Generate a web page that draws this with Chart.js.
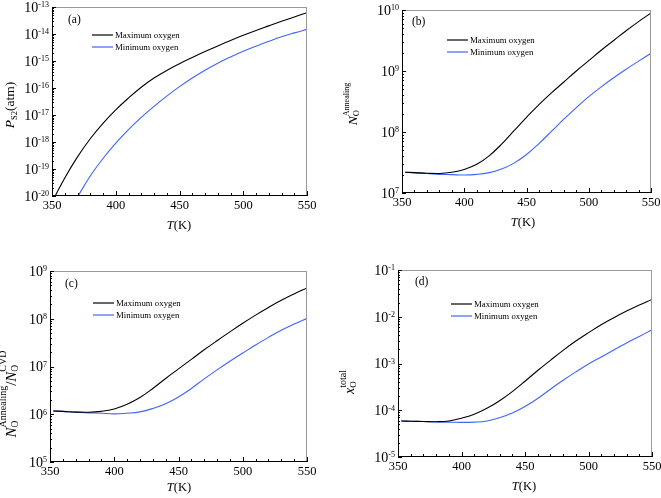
<!DOCTYPE html>
<html>
<head>
<meta charset="utf-8">
<script src="https://cdn.jsdelivr.net/npm/chart.js@4.4.1/dist/chart.umd.min.js"></script>
<style>
  html, body { margin: 0; padding: 0; background: #fff; }
  #wrap { position: relative; width: 661px; height: 498px; }
  canvas { position: absolute; }
</style>
</head>
<body>
<div id="wrap">
  <canvas id="pa"></canvas>
  <canvas id="pb"></canvas>
  <canvas id="pc"></canvas>
  <canvas id="pd"></canvas>
</div>
<script>
// -----------------------------
// Data
// -----------------------------
const seriesLabels = ["Maximum oxygen", "Minimum oxygen"];
const xTicks = [350, 400, 450, 500, 550];

const temps = [352.5, 360, 370, 380, 390, 400, 410, 420, 430, 440, 450,
               460, 470, 480, 490, 500, 510, 520, 530, 540, 550];
// the blue curve of (a) only enters the plot at ~370 K
const tempsMinA = [370.4, 380, 390, 400, 410, 420, 430, 440, 450,
                   460, 470, 480, 490, 500, 510, 520, 530, 540, 550];

// (a) P_S2 (atm)
const pS2Max = [1.0e-20, 4.68e-20, 2.82e-19, 1.32e-18, 4.90e-18, 1.55e-17, 4.27e-17,
                1.07e-16, 2.34e-16, 4.47e-16, 7.94e-16, 1.35e-15, 2.24e-15, 3.63e-15,
                5.75e-15, 8.91e-15, 1.35e-14, 2.0e-14, 2.95e-14, 4.27e-14, 6.17e-14];
const pS2Min = [1.0e-20, 5.50e-20, 2.45e-19, 9.12e-19, 2.88e-18, 8.13e-18, 2.09e-17,
                5.01e-17, 1.12e-16, 2.34e-16, 4.57e-16, 8.32e-16, 1.41e-15, 2.29e-15,
                3.55e-15, 5.37e-15, 7.94e-15, 1.10e-14, 1.48e-14];

// (b) N_O Annealing
const nAnnealMax = [2.19e7, 2.16e7, 2.11e7, 2.09e7, 2.19e7, 2.43e7, 2.95e7, 4.07e7,
                    6.31e7, 1.05e8, 1.74e8, 2.82e8, 4.37e8, 6.61e8, 1.0e9, 1.48e9,
                    2.19e9, 3.16e9, 4.57e9, 6.46e9, 8.91e9];
const nAnnealMin = [2.19e7, 2.14e7, 2.09e7, 2.02e7, 2.0e7, 1.97e7, 2.02e7, 2.16e7,
                    2.48e7, 3.09e7, 4.27e7, 6.46e7, 1.02e8, 1.62e8, 2.51e8, 3.80e8,
                    5.50e8, 7.76e8, 1.07e9, 1.45e9, 1.95e9];

// (c) N_O Annealing / N_O CVD
const ratioMax = [1.17e6, 1.15e6, 1.11e6, 1.10e6, 1.15e6, 1.29e6, 1.62e6, 2.24e6,
                  3.47e6, 5.62e6, 8.91e6, 1.41e7, 2.24e7, 3.47e7, 5.31e7, 8.04e7,
                  1.19e8, 1.72e8, 2.43e8, 3.31e8, 4.42e8];
const ratioMin = [1.17e6, 1.15e6, 1.11e6, 1.07e6, 1.05e6, 1.02e6, 1.05e6, 1.12e6,
                  1.32e6, 1.66e6, 2.29e6, 3.47e6, 5.50e6, 8.51e6, 1.29e7, 1.91e7,
                  2.82e7, 4.07e7, 5.75e7, 7.76e7, 1.02e8];

// (d) x_O total
const xTotalMax = [5.89e-5, 5.82e-5, 5.75e-5, 5.69e-5, 5.89e-5, 6.76e-5, 8.22e-5,
                   1.10e-4, 1.60e-4, 2.51e-4, 4.17e-4, 7.08e-4, 1.17e-3, 1.91e-3,
                   3.02e-3, 4.57e-3, 6.76e-3, 9.55e-3, 1.32e-2, 1.78e-2, 2.34e-2];
const xTotalMin = [5.89e-5, 5.82e-5, 5.75e-5, 5.62e-5, 5.56e-5, 5.50e-5, 5.56e-5,
                   5.89e-5, 6.92e-5, 8.71e-5, 1.20e-4, 1.78e-4, 2.82e-4, 4.37e-4,
                   6.61e-4, 9.77e-4, 1.38e-3, 1.95e-3, 2.75e-3, 3.80e-3, 5.25e-3];

// -----------------------------
// Styling
// -----------------------------
const SERIF = '"Liberation Serif", "DejaVu Serif", serif';
const lineColors = ["#000000", "#3f63ff"];

function font(size, italic) {
  return (italic ? "italic " : "") + size + "px " + SERIF;
}

// draws a run of text parts centred on (x, y); parts may be plain, or a sub/sup stack
function drawRich(ctx, parts, x, y, rotate) {
  ctx.save();
  ctx.translate(x, y);
  if (rotate) ctx.rotate(-Math.PI / 2);
  ctx.textBaseline = "alphabetic";
  ctx.textAlign = "left";
  const widths = parts.map(p => {
    if (p.t !== undefined) { ctx.font = font(p.size, p.italic); return ctx.measureText(p.t).width; }
    let w = 0;
    if (p.sup) { ctx.font = font(p.supSize); w = Math.max(w, ctx.measureText(p.sup).width); }
    if (p.sub) { ctx.font = font(p.subSize); w = Math.max(w, ctx.measureText(p.sub).width); }
    return w;
  });
  const total = widths.reduce((a, b) => a + b, 0);
  let cx = -total / 2;
  parts.forEach((p, i) => {
    if (p.t !== undefined) {
      ctx.font = font(p.size, p.italic);
      ctx.fillText(p.t, cx, p.dy || 0);
    } else {
      if (p.sup) { ctx.font = font(p.supSize); ctx.fillText(p.sup, cx, p.supDy); }
      if (p.sub) { ctx.font = font(p.subSize); ctx.fillText(p.sub, cx, p.subDy); }
    }
    cx += widths[i];
  });
  ctx.restore();
}

// -----------------------------
// Panels
// -----------------------------
const panels = [
  {
    id: "pa", left: 0, top: 0, w: 330, h: 249,
    area: { l: 52, t: 7, r: 307, b: 196 },
    yMin: 1e-20, yMax: 1e-13,
    series: [[temps, pS2Max], [tempsMinA, pS2Min]],
    letter: "(a)", letterPos: [68, 20],
    legend: { x: 92, y: 35 },
    xTitle: [179, 229],
    yTitle: { x: 13.5, y: 105, parts: [
      { t: "P", size: 13.5, italic: true },
      { t: "S2", size: 8.5, dy: 3 },
      { t: "(atm)", size: 13.5 }
    ] }
  },
  {
    id: "pb", left: 330, top: 0, w: 331, h: 249,
    area: { l: 72, t: 10, r: 321, b: 193 },
    yMin: 1e7, yMax: 1e10,
    series: [[temps, nAnnealMax], [temps, nAnnealMin]],
    letter: "(b)", letterPos: [82, 22],
    legend: { x: 117, y: 40 },
    xTitle: [193, 226],
    yTitle: { x: 27, y: 104, parts: [
      { t: "N", size: 13.5, italic: true },
      { sup: "Annealing", supSize: 8, supDy: -8.5, sub: "O", subSize: 8.5, subDy: 1.5 }
    ] }
  },
  {
    id: "pc", left: 0, top: 249, w: 330, h: 249,
    area: { l: 50, t: 22, r: 307, b: 213 },
    yMin: 1e5, yMax: 1e9,
    series: [[temps, ratioMax], [temps, ratioMin]],
    letter: "(c)", letterPos: [65, 35],
    legend: { x: 93, y: 54 },
    xTitle: [179, 242],
    yTitle: { x: 16, y: 145, parts: [
      { t: "N", size: 15, italic: true },
      { sup: "Annealing", supSize: 10, supDy: -10, sub: "O", subSize: 9.5, subDy: 2 },
      { t: "/", size: 15 },
      { t: "N", size: 15, italic: true },
      { sup: "CVD", supSize: 10, supDy: -10, sub: "O", subSize: 9.5, subDy: 2 }
    ] }
  },
  {
    id: "pd", left: 330, top: 249, w: 331, h: 249,
    area: { l: 68, t: 21, r: 322, b: 208 },
    yMin: 1e-5, yMax: 1e-1,
    series: [[temps, xTotalMax], [temps, xTotalMin]],
    letter: "(d)", letterPos: [85, 33],
    legend: { x: 121, y: 55 },
    xTitle: [194, 241],
    yTitle: { x: 23.5, y: 133, parts: [
      { t: "x", size: 14, italic: true },
      { sup: "total", supSize: 10, supDy: -8, sub: "O", subSize: 9, subDy: 2.5 }
    ] }
  }
];

// frame, inward ticks, tick labels, titles, legend
function axesPlugin(p) {
  return {
    id: "axesDecor",
    afterDraw(chart) {
      const ctx = chart.ctx;
      const a = chart.chartArea;
      const xs = chart.scales.x, ys = chart.scales.y;
      ctx.save();
      ctx.lineWidth = 1;

      // top / right frame (light)
      ctx.strokeStyle = "#9a9a9a";
      ctx.beginPath();
      ctx.moveTo(a.left, a.top + 0.5); ctx.lineTo(a.right, a.top + 0.5);
      ctx.moveTo(a.right - 0.5, a.top); ctx.lineTo(a.right - 0.5, a.bottom);
      ctx.stroke();
      // left / bottom axes
      ctx.strokeStyle = "#000";
      ctx.beginPath();
      ctx.moveTo(a.left + 0.5, a.top); ctx.lineTo(a.left + 0.5, a.bottom);
      ctx.moveTo(a.left, a.bottom - 0.5); ctx.lineTo(a.right, a.bottom - 0.5);
      ctx.stroke();

      // x ticks
      ctx.beginPath();
      for (let t = 350; t <= 550; t += 10) {
        const x = Math.round(xs.getPixelForValue(t)) + 0.5;
        const len = t % 50 === 0 ? 5 : 3;
        ctx.moveTo(x, a.bottom); ctx.lineTo(x, a.bottom - len);
      }
      // y ticks (decades + minors)
      const k0 = Math.round(Math.log10(p.yMin)), k1 = Math.round(Math.log10(p.yMax));
      for (let k = k0; k <= k1; k++) {
        for (let m = 1; m <= 9; m++) {
          if (k === k1 && m > 1) break;
          const y = Math.round(ys.getPixelForValue(m * Math.pow(10, k))) + 0.5;
          const len = m === 1 ? 4 : 2;
          ctx.moveTo(a.left, y); ctx.lineTo(a.left + len, y);
        }
      }
      ctx.stroke();

      ctx.fillStyle = "#000";
      // x tick labels
      ctx.font = font(12.5);
      ctx.textAlign = "center";
      ctx.textBaseline = "middle";
      xTicks.forEach(t => ctx.fillText(String(t), xs.getPixelForValue(t), a.bottom + 9.5));

      // y tick labels: 10 with superscript exponent
      for (let k = k0; k <= k1; k++) {
        const y = ys.getPixelForValue(Math.pow(10, k));
        ctx.textAlign = "left";
        ctx.textBaseline = "alphabetic";
        ctx.font = font(14);
        const wBase = ctx.measureText("10").width;
        ctx.font = font(8);
        const exp = String(k);
        const wExp = ctx.measureText(exp).width;
        const x0 = a.left - 3 - wBase - wExp;
        ctx.font = font(14);
        ctx.fillText("10", x0, y + 4.8);
        ctx.font = font(8);
        ctx.fillText(exp, x0 + wBase, y + 0.3);
      }

      // panel letter
      ctx.font = font(11.5);
      ctx.textAlign = "left";
      ctx.textBaseline = "middle";
      ctx.fillText(p.letter, p.letterPos[0], p.letterPos[1]);

      // legend
      chart.data.datasets.forEach((ds, i) => {
        const y = p.legend.y + i * 12;
        ctx.strokeStyle = ds.borderColor;
        ctx.lineWidth = 1.2;
        ctx.beginPath();
        ctx.moveTo(p.legend.x, y); ctx.lineTo(p.legend.x + 21, y);
        ctx.stroke();
        ctx.fillStyle = "#000";
        ctx.font = font(8.8);
        ctx.textBaseline = "middle";
        ctx.fillText(ds.label, p.legend.x + 23, y + 0.5);
      });

      // axis titles
      drawRich(ctx, [{ t: "T", size: 12.5, italic: true }, { t: "(K)", size: 12.5 }],
               p.xTitle[0], p.xTitle[1], false);
      drawRich(ctx, p.yTitle.parts, p.yTitle.x, p.yTitle.y, true);
      ctx.restore();
    }
  };
}

panels.forEach(p => {
  const canvas = document.getElementById(p.id);
  canvas.width = p.w;
  canvas.height = p.h;
  canvas.style.left = p.left + "px";
  canvas.style.top = p.top + "px";
  canvas.style.width = p.w + "px";
  canvas.style.height = p.h + "px";

  new Chart(canvas.getContext("2d"), {
    type: "line",
    data: {
      datasets: p.series.map(([xs, ys], i) => ({
        label: seriesLabels[i],
        data: xs.map((t, j) => ({ x: t, y: ys[j] })),
        borderColor: lineColors[i],
        borderWidth: 1.1,
        pointRadius: 0,
        fill: false,
        tension: 0.4
      }))
    },
    options: {
      responsive: false,
      animation: false,
      devicePixelRatio: 1,
      layout: { padding: { left: 0, top: p.area.t, right: p.w - p.area.r, bottom: 0 } },
      plugins: { legend: { display: false }, tooltip: { enabled: false } },
      scales: {
        x: {
          type: "linear", min: 350, max: 550,
          ticks: { display: false }, grid: { display: false }, border: { display: false },
          afterFit: s => { s.height = p.h - p.area.b; }
        },
        y: {
          type: "logarithmic", min: p.yMin, max: p.yMax,
          ticks: { display: false }, grid: { display: false }, border: { display: false },
          afterFit: s => { s.width = p.area.l; }
        }
      }
    },
    plugins: [axesPlugin(p)]
  });
});
</script>
</body>
</html>
